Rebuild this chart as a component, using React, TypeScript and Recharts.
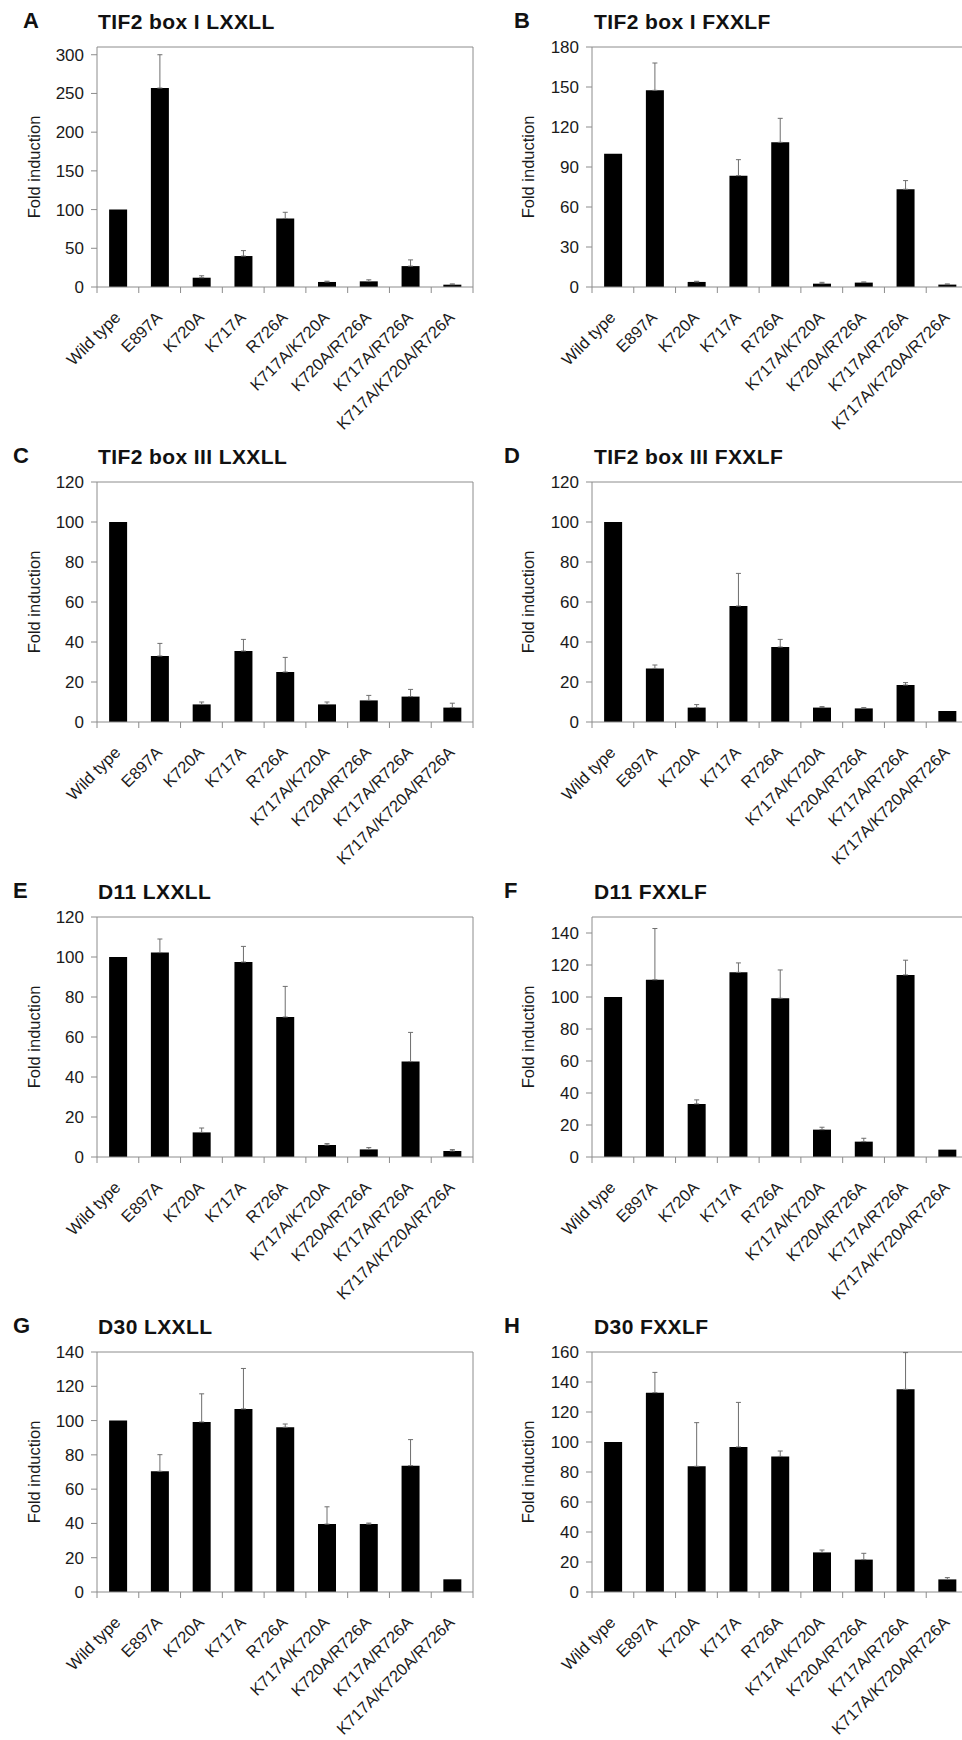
import React from "react";
import { BarChart, Bar, XAxis, YAxis, ErrorBar, CartesianGrid } from "recharts";

const CATEGORIES = [
  "Wild type", "E897A", "K720A", "K717A", "R726A",
  "K717A/K720A", "K720A/R726A", "K717A/R726A", "K717A/K720A/R726A",
];

// A: TIF2 box I LXXLL
const A_VALUES = [100, 257, 12, 40, 88.5, 6.5, 7.3, 27, 3];
const A_ERRORS = [null, 43, 2.5, 7, 8, 1, 2, 8, 1];
const A_TICKS = [0, 50, 100, 150, 200, 250, 300];

// B: TIF2 box I FXXLF
const B_VALUES = [100, 147.5, 3.8, 83.5, 108.5, 2.5, 3.3, 73.3, 1.8];
const B_ERRORS = [null, 20.5, 0.5, 12, 18, 1, 0.5, 6.5, 0.5];
const B_TICKS = [0, 30, 60, 90, 120, 150, 180];

// C: TIF2 box III LXXLL
const C_VALUES = [100, 33, 8.8, 35.5, 25, 8.8, 10.8, 12.7, 7.2];
const C_ERRORS = [null, 6.3, 1.2, 5.8, 7.3, 1.2, 2.5, 3.6, 2.2];
const C_TICKS = [0, 20, 40, 60, 80, 100, 120];

// D: TIF2 box III FXXLF
const D_VALUES = [100, 26.8, 7.2, 58, 37.5, 7.2, 6.8, 18.5, 5.5];
const D_ERRORS = [null, 1.7, 1.5, 16.3, 3.8, 0.5, 0.4, 1.2, null];
const D_TICKS = [0, 20, 40, 60, 80, 100, 120];

// E: D11 LXXLL
const E_VALUES = [100, 102.2, 12.3, 97.5, 70, 6, 3.8, 47.7, 3];
const E_ERRORS = [null, 6.8, 2.2, 7.8, 15.3, 0.7, 0.9, 14.6, 0.7];
const E_TICKS = [0, 20, 40, 60, 80, 100, 120];

// F: D11 FXXLF
const F_VALUES = [100, 110.8, 33.2, 115.4, 99.2, 17.1, 9.6, 113.8, 4.6];
const F_ERRORS = [null, 32, 2.5, 5.9, 17.7, 1.5, 2.1, 9.2, null];
const F_TICKS = [0, 20, 40, 60, 80, 100, 120, 140];

// G: D30 LXXLL
const G_VALUES = [100, 70.4, 99.2, 106.8, 96.1, 39.6, 39.6, 73.7, 7.4];
const G_ERRORS = [null, 9.7, 16.4, 23.6, 1.9, 10.1, 0.6, 15.2, null];
const G_TICKS = [0, 20, 40, 60, 80, 100, 120, 140];

// H: D30 FXXLF
const H_VALUES = [100, 132.9, 83.8, 96.7, 90.4, 26.4, 21.6, 135.1, 8.4];
const H_ERRORS = [null, 13.5, 29.1, 29.7, 3.6, 1.6, 4.2, 24.5, 1.2];
const H_TICKS = [0, 20, 40, 60, 80, 100, 120, 140, 160];

const PANELS = [
  { letter: "A", title: "TIF2 box I LXXLL", values: A_VALUES, errors: A_ERRORS, ticks: A_TICKS, max: 310 },
  { letter: "B", title: "TIF2 box I FXXLF", values: B_VALUES, errors: B_ERRORS, ticks: B_TICKS, max: 180 },
  { letter: "C", title: "TIF2 box III LXXLL", values: C_VALUES, errors: C_ERRORS, ticks: C_TICKS, max: 120 },
  { letter: "D", title: "TIF2 box III FXXLF", values: D_VALUES, errors: D_ERRORS, ticks: D_TICKS, max: 120 },
  { letter: "E", title: "D11 LXXLL", values: E_VALUES, errors: E_ERRORS, ticks: E_TICKS, max: 120 },
  { letter: "F", title: "D11 FXXLF", values: F_VALUES, errors: F_ERRORS, ticks: F_TICKS, max: 150 },
  { letter: "G", title: "D30 LXXLL", values: G_VALUES, errors: G_ERRORS, ticks: G_TICKS, max: 140 },
  { letter: "H", title: "D30 FXXLF", values: H_VALUES, errors: H_ERRORS, ticks: H_TICKS, max: 160 },
];

const AXIS = "#8c8c8c";
const INK = "#1a1a1a";
const ERR = "#6e6e6e";
const FONT = '"Liberation Sans", Arial, Helvetica, sans-serif';

// layout
const PLOT_TOPS = [47, 482, 917, 1352];
const PLOT_H = 240;
const PAD_TOP = 12;
const X_AXIS_H = 146;
const CHART_H = PAD_TOP + PLOT_H + X_AXIS_H;
const Y_AXIS_W = 60;
const COLS = [
  { left: 0, width: 481, marginLeft: 37, labelX: 33.5, titleX: 98 },
  { left: 481, width: 495, marginLeft: 51, labelX: 47, titleX: 113 },
];
const LETTER_X = [[23, 33], [13, 23], [13, 23], [13, 23]];
const MARGIN_RIGHT = 8;

function CategoryTick(props: any) {
  const { x, y, payload, index, band, last } = props;
  const half = band / 2;
  const ax = x + 3.5;
  const ay = y + 25.5;
  return (
    <g>
      <line x1={x - half} x2={x - half} y1={y - 6} y2={y} stroke={AXIS} />
      {index === last && <line x1={x + half} x2={x + half} y1={y - 6} y2={y} stroke={AXIS} />}
      <text x={ax} y={ay} transform={`rotate(-45, ${ax}, ${ay})`} textAnchor="end"
        fontSize={16.5} fill={INK} fontFamily={FONT}>{payload.value}</text>
    </g>
  );
}

function FoldLabel(props: any) {
  const { viewBox, cx } = props;
  const cy = viewBox.y + viewBox.height / 2;
  return (
    <text x={cx} y={cy} transform={`rotate(-90, ${cx}, ${cy})`} textAnchor="middle"
      dominantBaseline="central" fontSize={16.5} fill={INK} fontFamily={FONT}>Fold induction</text>
  );
}

function Panel({ panel, index }: { panel: typeof PANELS[number]; index: number }) {
  const row = Math.floor(index / 2);
  const colIdx = index % 2;
  const col = COLS[colIdx];
  const plotTop = PLOT_TOPS[row];
  const plotW = col.width - col.marginLeft - Y_AXIS_W - MARGIN_RIGHT;
  const data = CATEGORIES.map((name, i) => ({
    name,
    value: panel.values[i],
    err: panel.errors[i] == null ? null : [0, panel.errors[i]],
  }));
  const baseline = plotTop - 18;
  return (
    <div style={{ position: "absolute", left: col.left, top: 0 }}>
      <div style={{ position: "absolute", left: LETTER_X[row][colIdx], top: baseline - 18.6, fontSize: 22, lineHeight: "22px", fontWeight: 700, color: "#111", whiteSpace: "nowrap" }}>
        {panel.letter}
      </div>
      <div style={{ position: "absolute", left: col.titleX, top: baseline - 17.8, fontSize: 21, lineHeight: "21px", fontWeight: 700, color: "#111", whiteSpace: "nowrap", letterSpacing: 0.4 }}>
        {panel.title}
      </div>
      <div style={{ position: "absolute", left: 0, top: plotTop - PAD_TOP }}>
        <BarChart width={col.width} height={CHART_H} data={data} barCategoryGap="29%"
          margin={{ top: PAD_TOP, right: MARGIN_RIGHT, left: col.marginLeft, bottom: 0 }}>
          <CartesianGrid stroke={AXIS}
            horizontalCoordinatesGenerator={({ offset }: any) => [offset.top]}
            verticalCoordinatesGenerator={({ offset }: any) => [offset.left + offset.width]} />
          <XAxis dataKey="name" interval={0} height={X_AXIS_H} tickLine={false} tickSize={6} tickMargin={0}
            axisLine={{ stroke: AXIS }}
            tick={<CategoryTick band={plotW / CATEGORIES.length} last={CATEGORIES.length - 1} />} />
          <YAxis type="number" domain={[0, panel.max]} ticks={panel.ticks} allowDataOverflow width={Y_AXIS_W}
            tick={{ fontSize: 17, fill: INK, fontFamily: FONT }} tickLine={{ stroke: AXIS }} tickSize={6} tickMargin={7}
            axisLine={{ stroke: AXIS }} label={<FoldLabel cx={col.labelX} />} />
          <Bar dataKey="value" fill="#000" isAnimationActive={false}>
            <ErrorBar dataKey="err" direction="y" width={2.5} stroke={ERR} strokeWidth={1} isAnimationActive={false} />
          </Bar>
        </BarChart>
      </div>
    </div>
  );
}

export default function App() {
  return (
    <div style={{ position: "absolute", left: 0, top: 0, width: 962, height: 1740, overflow: "hidden", background: "#fff", fontFamily: FONT }}>
      {PANELS.map((p, i) => <Panel key={p.letter} panel={p} index={i} />)}
    </div>
  );
}
